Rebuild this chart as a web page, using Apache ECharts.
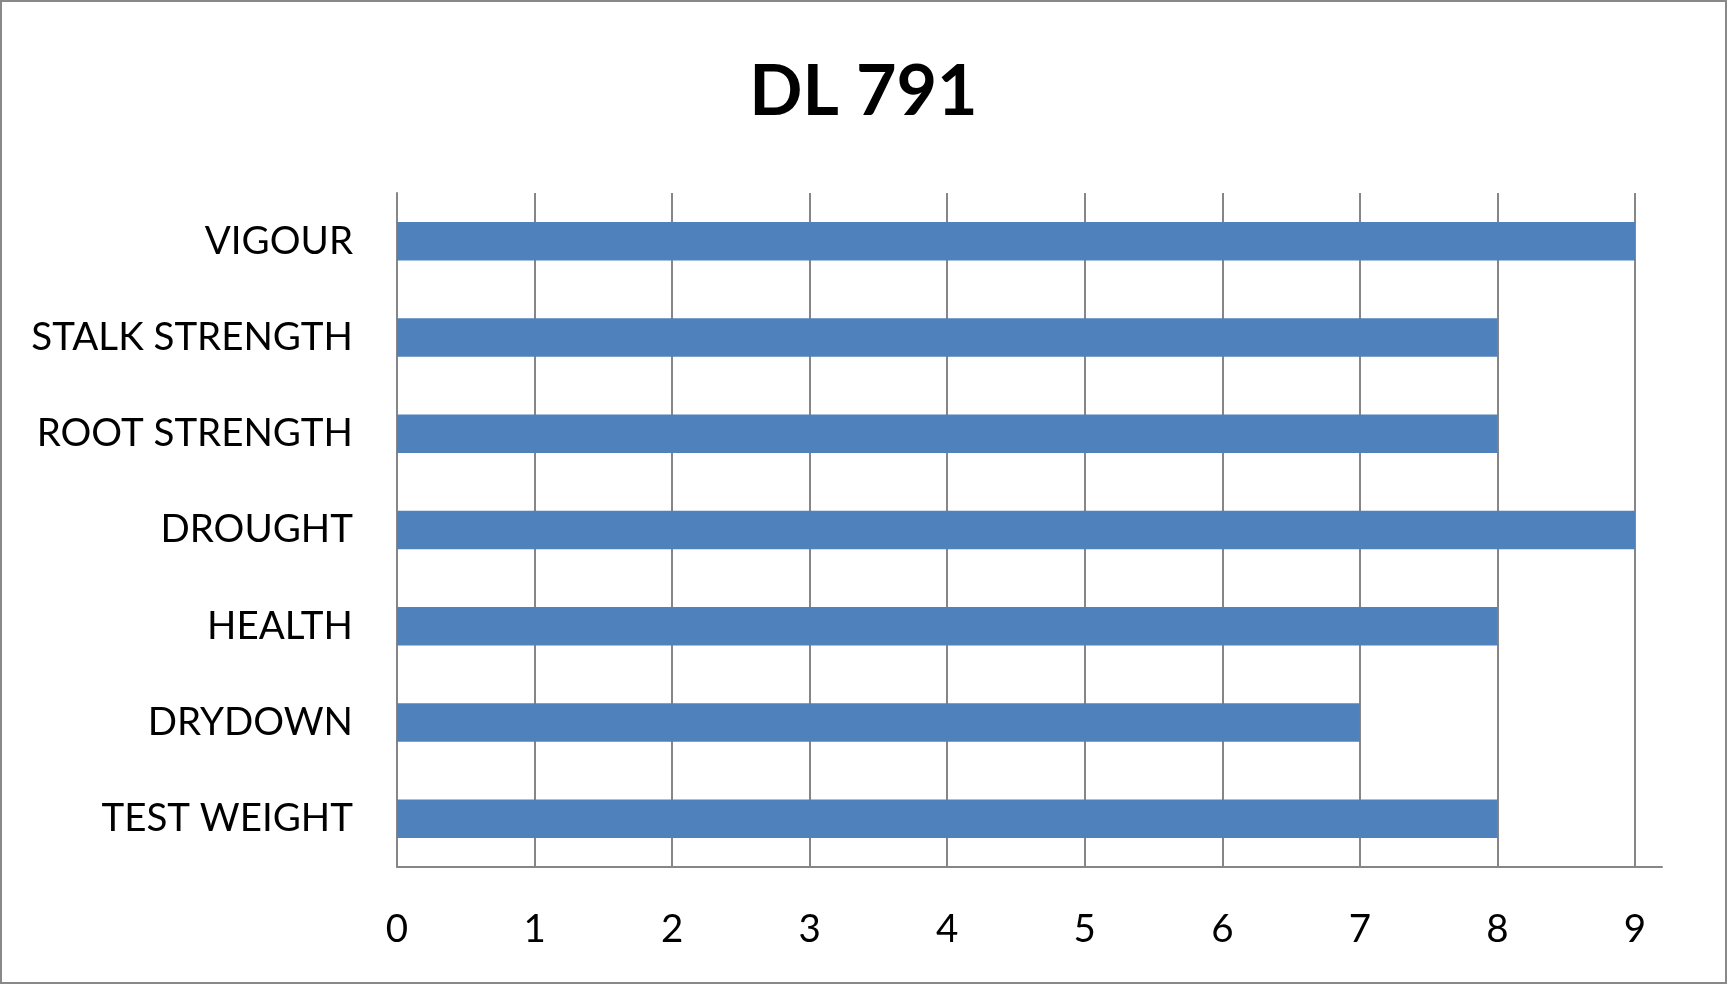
<!DOCTYPE html>
<html>
<head>
<meta charset="utf-8">
<script src="https://cdn.jsdelivr.net/npm/echarts@6/dist/echarts.min.js"></script>
<style>
html,body{margin:0;padding:0;background:#fff;}
#chart{width:1727px;height:984px;box-sizing:border-box;border:2px solid #898989;}
</style>
</head>
<body>
<div id="chart"></div>
<script>
var titleText = 'DL 791';
var categories = ['VIGOUR','STALK STRENGTH','ROOT STRENGTH','DROUGHT','HEALTH','DRYDOWN','TEST WEIGHT'];
var values = [9, 8, 8, 9, 8, 7, 8];
var xMin = 0, xMax = 9, xInterval = 1;

var chart = echarts.init(document.getElementById('chart'), null, {renderer:'canvas'});
var fontFam = 'Lato, "Open Sans", sans-serif';
var gray = '#868686';
chart.setOption({
  animation:false,
  title:{text:titleText,left:'center',top:50,textStyle:{fontFamily:fontFam,fontWeight:'bold',fontSize:70,color:'#000'}},
  grid:[
    {left:395,right:90,top:191,bottom:115,containLabel:false},
    {left:395,right:63,top:191,bottom:115,containLabel:false}
  ],
  xAxis:[
    {type:'value',gridIndex:0,min:xMin,max:xMax,interval:xInterval,
     axisLine:{show:false},axisTick:{show:false},
     splitLine:{show:true,lineStyle:{color:gray,width:2}},
     axisLabel:{margin:43,fontFamily:fontFam,fontSize:38.5,color:'#000'}},
    {type:'value',gridIndex:1,min:0,max:1,
     axisLine:{show:true,lineStyle:{color:gray,width:2}},axisTick:{show:false},
     splitLine:{show:false},axisLabel:{show:false}}
  ],
  yAxis:[
    {type:'category',gridIndex:0,data:categories,inverse:true,
     axisLine:{show:true,lineStyle:{color:gray,width:2}},axisTick:{show:false},
     splitLine:{show:false},
     axisLabel:{margin:44,fontFamily:fontFam,fontSize:38.5,color:'#000'}},
    {type:'category',gridIndex:1,data:categories,inverse:true,show:false}
  ],
  series:[{type:'bar',xAxisIndex:0,yAxisIndex:0,data:values,barCategoryGap:'60%',
    itemStyle:{color:'#4F81BD'}}]
});
</script>
</body>
</html>
